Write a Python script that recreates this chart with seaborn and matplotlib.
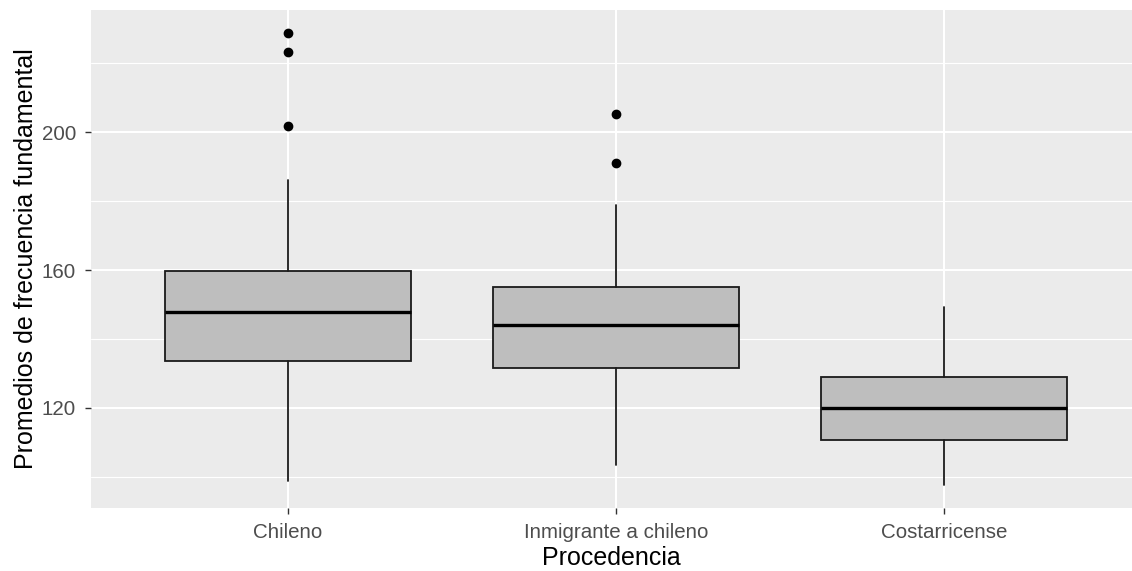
import matplotlib
matplotlib.use("Agg")
import matplotlib.pyplot as plt
import seaborn as sns

# values
grupos = ["Chileno", "Inmigrante a chileno", "Costarricense"]
bigote_inf = [98.8, 103.4, 97.6]
q1 = [133.5, 131.5, 110.7]
mediana = [147.8, 144.0, 120.0]
q3 = [159.7, 155.1, 129.0]
bigote_sup = [186.0, 178.8, 149.2]
atipicos = [[201.7, 223.3, 228.8], [191.0, 205.2], []]

sns.set_theme(style="darkgrid", rc={
    "axes.facecolor": "#EBEBEB",
    "grid.color": "white",
    "axes.edgecolor": "#EBEBEB",
    "xtick.bottom": True,
    "ytick.left": True,
})
plt.rcParams["font.family"] = ["Liberation Sans", "DejaVu Sans"]

fig = plt.figure(figsize=(11.32, 5.71), dpi=100)
ax = fig.add_axes([91 / 1132, 63 / 571, 1 - 91 / 1132, 498 / 571])

stats = []
for i, g in enumerate(grupos):
    stats.append({
        "label": g, "whislo": bigote_inf[i], "q1": q1[i], "med": mediana[i],
        "q3": q3[i], "whishi": bigote_sup[i], "fliers": atipicos[i],
    })

ax.bxp(stats, positions=range(len(grupos)), widths=0.75, patch_artist=True,
       showcaps=False,
       boxprops=dict(facecolor="#BEBEBE", edgecolor="#1A1A1A", linewidth=1.3),
       medianprops=dict(color="black", linewidth=2.4),
       whiskerprops=dict(color="#1A1A1A", linewidth=1.3),
       flierprops=dict(marker="o", markerfacecolor="black", markeredgecolor="black",
                       markersize=6))

ax.set_xlim(-0.6, -0.6 + 1041 / 328)
ax.set_ylim(91.0, 235.4)
ax.set_yticks([120, 160, 200])
ax.set_yticks([100, 140, 180, 220], minor=True)
ax.set_xticks(range(len(grupos)))
ax.set_xticklabels(grupos)
ax.grid(True, which="major", color="white", linewidth=1.5)
ax.grid(True, which="minor", axis="y", color="white", linewidth=0.8)
ax.set_axisbelow(True)
for s in ax.spines.values():
    s.set_visible(False)

ax.tick_params(axis="both", which="major", length=4.3, width=1.0, color="#333333",
               labelcolor="#4D4D4D", labelsize=14.8, pad=6.5)
ax.tick_params(axis="both", which="minor", length=0)
ax.set_xlabel("Procedencia", fontsize=18, color="black", labelpad=3)
ax.set_ylabel("Promedios de frecuencia fundamental", fontsize=18, color="black",
              labelpad=2.5)

fig.savefig("out.png", dpi=100)
